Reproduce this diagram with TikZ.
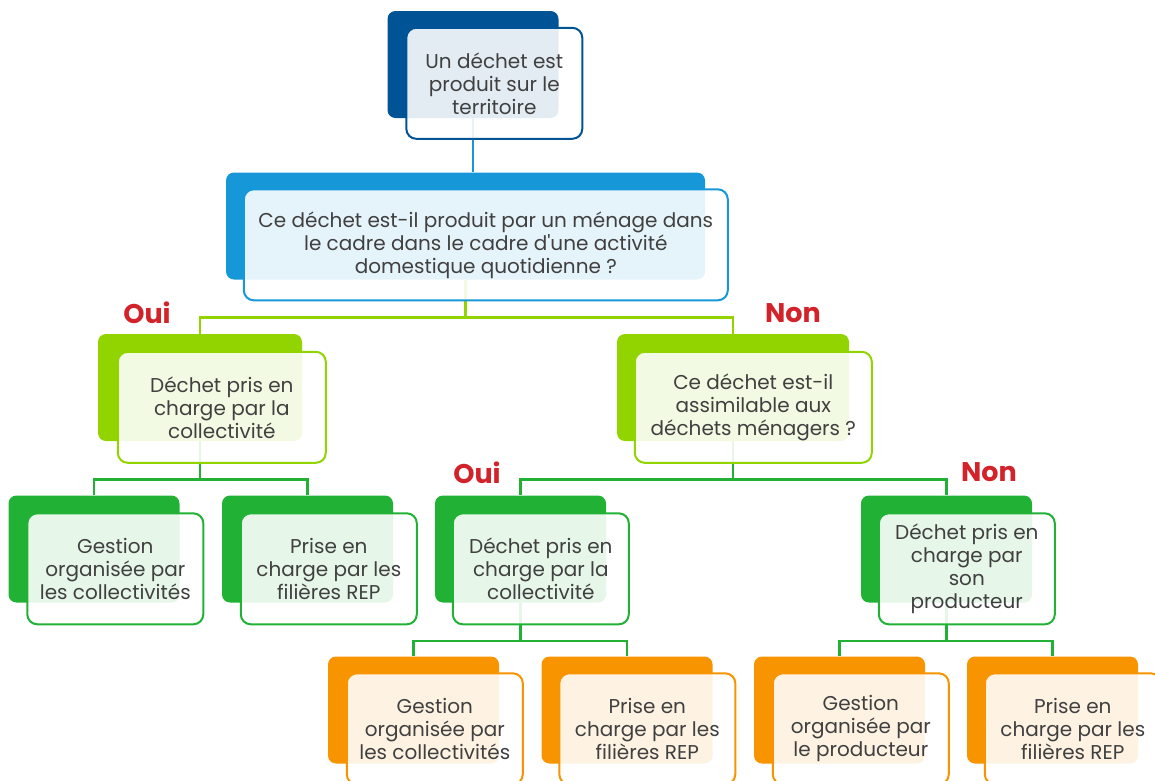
\documentclass[tikz,border=0pt]{standalone}
\usepackage{fontspec}
\setmainfont{Poppins}[Ligatures=TeXOff]
\usetikzlibrary{positioning,calc,backgrounds}

\definecolor{darkblue}{RGB}{0,84,150}
\definecolor{midblue}{RGB}{22,152,216}
\definecolor{lightgreen}{RGB}{146,212,0}
\definecolor{leafgreen}{RGB}{33,178,53}
\definecolor{deeporange}{RGB}{247,148,0}
\definecolor{txtgray}{RGB}{64,64,64}
\definecolor{answerred}{RGB}{210,35,42}

\begin{document}
\begin{tikzpicture}[
  x=1pt, y=-1pt,
  bg/.style={rounded corners=8pt,inner sep=0pt,minimum width=171pt,minimum height=107pt},
  card/.style={draw,line width=2pt,rounded corners=10pt,fill=white,fill opacity=.89,text opacity=1,
    text=txtgray,align=center,inner sep=0pt,minimum width=176pt,minimum height=111pt,
    font=\fontsize{20}{23}\selectfont},
  link/.style={line width=2.4pt},
  answer/.style={text=answerred,font=\bfseries\fontsize{27}{27}\selectfont}
]
\clip (0,0) rectangle (1155,780);

% coloured back panels
\node[bg, fill=darkblue] (prod-bg) at (473,64.5) {};
\node[bg, fill=midblue, minimum width=479pt] (menage-bg) at (465.5,226) {};
\node[bg, fill=lightgreen, minimum width=204pt] (oui1-bg) at (200,387.5) {};
\node[bg, fill=lightgreen, minimum width=232pt] (non1-bg) at (733,387.5) {};
\node[bg, fill=leafgreen] (gcol1-bg) at (94,549) {};
\node[bg, fill=leafgreen] (rep1-bg) at (307.5,549) {};
\node[bg, fill=leafgreen] (oui2-bg) at (520.5,549) {};
\node[bg, fill=leafgreen] (non2-bg) at (946.5,549) {};
\node[bg, fill=deeporange] (gcol2-bg) at (413.5,710) {};
\node[bg, fill=deeporange] (rep2-bg) at (627,710) {};
\node[bg, fill=deeporange] (gprod-bg) at (839.5,710) {};
\node[bg, fill=deeporange] (rep3-bg) at (1052.5,710) {};

% text cards
\node[card, draw=darkblue, below right=16pt and 18pt of prod-bg.north west] (prod)
  {Un déchet est\\produit sur le\\territoire};
\node[card, draw=midblue, minimum width=484pt, below right=16pt and 17pt of menage-bg.north west] (menage)
  {Ce déchet est-il produit par un ménage dans\\le cadre dans le cadre d'une activité\\domestique quotidienne ?};
\node[card, draw=lightgreen, minimum width=208pt, below right=17pt and 19pt of oui1-bg.north west] (oui1)
  {Déchet pris en\\charge par la\\collectivité};
\node[card, draw=lightgreen, minimum width=237pt, below right=17pt and 17pt of non1-bg.north west] (non1)
  {Ce déchet est-il\\assimilable aux\\déchets ménagers ?};
\node[card, draw=leafgreen, below right=17pt and 18pt of gcol1-bg.north west] (gcol1)
  {Gestion\\organisée par\\les collectivités};
\node[card, draw=leafgreen, below right=17pt and 18pt of rep1-bg.north west] (rep1)
  {Prise en\\charge par les\\filières REP};
\node[card, draw=leafgreen, below right=17pt and 17pt of oui2-bg.north west] (oui2)
  {Déchet pris en\\charge par la\\collectivité};
\node[card, draw=leafgreen, below right=17pt and 17pt of non2-bg.north west] (non2)
  {Déchet pris en\\charge par\\son\\producteur};
\node[card, draw=deeporange, below right=16pt and 18pt of gcol2-bg.north west] (gcol2)
  {Gestion\\organisée par\\les collectivités};
\node[card, draw=deeporange, below right=16pt and 17pt of rep2-bg.north west] (rep2)
  {Prise en\\charge par les\\filières REP};
\node[card, draw=deeporange, below right=16pt and 18pt of gprod-bg.north west] (gprod)
  {Gestion\\organisée par\\le producteur};
\node[card, draw=deeporange, below right=16pt and 17pt of rep3-bg.north west] (rep3)
  {Prise en\\charge par les\\filières REP};

% answers
\node[answer] (oui1-lbl) at (147,313) {Oui};
\node[answer] (non1-lbl) at (793,313) {Non};
\node[answer] (oui2-lbl) at (477,473) {Oui};
\node[answer] (non2-lbl) at (989,472) {Non};

% connectors, behind the panels
\begin{scope}[on background layer]
\draw[link, midblue] (prod-bg.south) -- (prod-bg.south |- menage-bg.north);
\draw[link, lightgreen] (menage-bg.south) |- ($(menage.south)!.5!(oui1-bg.north)$) -| (oui1-bg.north);
\draw[link, lightgreen] (menage-bg.south) |- ($(menage.south)!.5!(non1-bg.north)$) -| (non1-bg.north);
\draw[link, leafgreen] (oui1-bg.south) |- ($(oui1.south)!.5!(gcol1-bg.north)$) -| (gcol1-bg.north);
\draw[link, leafgreen] (oui1-bg.south) |- ($(oui1.south)!.5!(rep1-bg.north)$) -| (rep1-bg.north);
\draw[link, leafgreen] (non1-bg.south) |- ($(non1.south)!.5!(oui2-bg.north)$) -| (oui2-bg.north);
\draw[link, leafgreen] (non1-bg.south) |- ($(non1.south)!.5!(non2-bg.north)$) -| (non2-bg.north);
\draw[link, leafgreen] (oui2-bg.south) |- ($(oui2.south)!.5!(gcol2-bg.north)$) -| (gcol2-bg.north);
\draw[link, leafgreen] (oui2-bg.south) |- ($(oui2.south)!.5!(rep2-bg.north)$) -| (rep2-bg.north);
\draw[link, leafgreen] (non2-bg.south) |- ($(non2.south)!.5!(gprod-bg.north)$) -| (gprod-bg.north);
\draw[link, leafgreen] (non2-bg.south) |- ($(non2.south)!.5!(rep3-bg.north)$) -| (rep3-bg.north);
\end{scope}
\end{tikzpicture}
\end{document}
